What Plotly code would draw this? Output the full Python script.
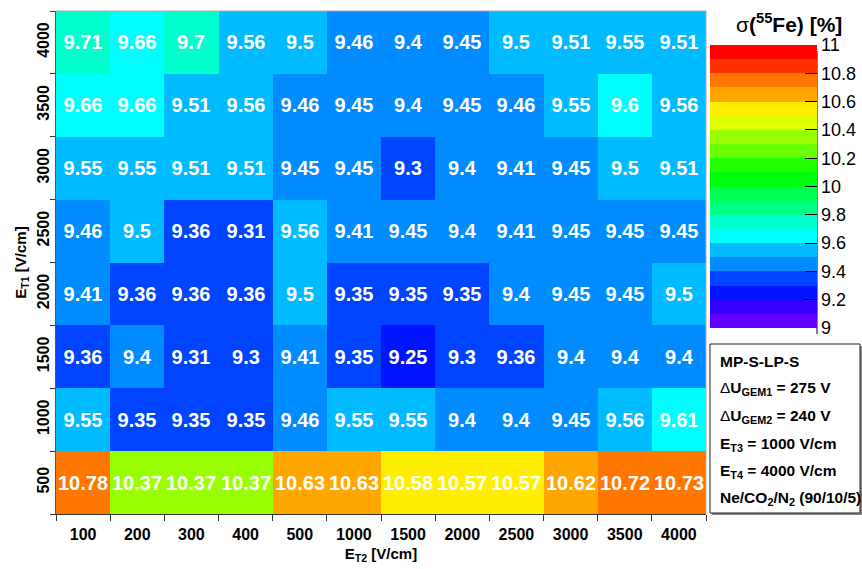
import math
import plotly.graph_objects as go

# Transfer fields
et2_labels = ["100", "200", "300", "400", "500", "1000", "1500", "2000", "2500", "3000", "3500", "4000"]
et1_labels = ["500", "1000", "1500", "2000", "2500", "3000", "3500", "4000"]

# Energy resolution sigma(55Fe) [%], one row per E_T1 value (bottom to top)
res_500 = [10.78, 10.37, 10.37, 10.37, 10.63, 10.63, 10.58, 10.57, 10.57, 10.62, 10.72, 10.73]
res_1000 = [9.55, 9.35, 9.35, 9.35, 9.46, 9.55, 9.55, 9.4, 9.4, 9.45, 9.56, 9.61]
res_1500 = [9.36, 9.4, 9.31, 9.3, 9.41, 9.35, 9.25, 9.3, 9.36, 9.4, 9.4, 9.4]
res_2000 = [9.41, 9.36, 9.36, 9.36, 9.5, 9.35, 9.35, 9.35, 9.4, 9.45, 9.45, 9.5]
res_2500 = [9.46, 9.5, 9.36, 9.31, 9.56, 9.41, 9.45, 9.4, 9.41, 9.45, 9.45, 9.45]
res_3000 = [9.55, 9.55, 9.51, 9.51, 9.45, 9.45, 9.3, 9.4, 9.41, 9.45, 9.5, 9.51]
res_3500 = [9.66, 9.66, 9.51, 9.56, 9.46, 9.45, 9.4, 9.45, 9.46, 9.55, 9.6, 9.56]
res_4000 = [9.71, 9.66, 9.7, 9.56, 9.5, 9.46, 9.4, 9.45, 9.5, 9.51, 9.55, 9.51]

rows = [res_500, res_1000, res_1500, res_2000, res_2500, res_3000, res_3500, res_4000]

# Contour levels
z_lo, z_hi, n_levels = 9.0, 11.0, 20
step = (z_hi - z_lo) / n_levels

# 20-level rainbow palette (violet -> red)
palette = ["#6300ff", "#3300ff", "#0014ff", "#0044ff", "#008bff",
           "#00bbff", "#00fffc", "#00ffcc", "#00ff85", "#00ff55",
           "#00ff0e", "#22ff00", "#69ff00", "#99ff00", "#e0ff00",
           "#ffee00", "#ffa700", "#ff7700", "#ff3000", "#ff0000"]

colorscale = []
for k, c in enumerate(palette):
    colorscale.append([k / n_levels, c])
    colorscale.append([(k + 1) / n_levels, c])


def level_center(v):
    k = math.floor(round((v - z_lo) / step, 6))
    k = min(max(k, 0), n_levels - 1)
    return z_lo + (k + 0.5) * step


z_col = [[level_center(v) for v in r] for r in rows]
txt = [[f"{v:g}" for v in r] for r in rows]

W_FIG, H_FIG = 862, 569
L, R, T, B = 56, 706, 11, 514
PW, PH = R - L, B - T


def px(x):
    return (x - L) / PW


def py(y):
    return (B - y) / PH


FONT = "Liberation Sans, Arial, sans-serif"

cb_ticks = [9.0, 9.2, 9.4, 9.6, 9.8, 10.0, 10.2, 10.4, 10.6, 10.8, 11.0]

fig = go.Figure(go.Heatmap(
    x=et2_labels, y=et1_labels, z=z_col,
    text=txt, texttemplate="%{text}",
    textfont=dict(family=FONT, size=20, color="white", weight="bold"),
    colorscale=colorscale, zmin=z_lo, zmax=z_hi,
    hoverinfo="skip",
    colorbar=dict(
        xref="container", yref="container",
        x=710 / W_FIG, xanchor="left", xpad=0,
        y=(H_FIG - 51) / H_FIG, yanchor="top", ypad=0,
        thickness=107, thicknessmode="pixels",
        len=283, lenmode="pixels",
        outlinewidth=0,
        ticks="inside", ticklen=12, tickwidth=1, tickcolor="black",
        tickvals=cb_ticks, ticktext=[f"{t:g}" for t in cb_ticks],
        tickfont=dict(family=FONT, size=18, color="black"),
    ),
))

fig.update_layout(
    width=W_FIG, height=H_FIG,
    margin=dict(l=L, r=W_FIG - R, t=T, b=H_FIG - B, autoexpand=False),
    paper_bgcolor="white", plot_bgcolor="white",
    font=dict(family=FONT, color="black"),
    xaxis=dict(
        type="category", tickson="boundaries", automargin=False,
        ticks="outside", ticklen=6, tickcolor="#333", tickwidth=1,
        showline=True, linecolor="#333", linewidth=1,
        ticklabelstandoff=6,
        tickfont=dict(family=FONT, size=16, weight="bold"),
        title=dict(text="E<sub>T2</sub> [V/cm]", standoff=6,
                   font=dict(family=FONT, size=15, weight="bold")),
        showgrid=False, zeroline=False,
    ),
    yaxis=dict(
        type="category", tickson="boundaries", automargin=False,
        ticks="outside", ticklen=5, tickcolor="#333", tickwidth=1,
        showline=True, linecolor="#555", linewidth=1,
        tickangle=-90,
        tickfont=dict(family=FONT, size=16, weight="bold"),
        title=dict(text="E<sub>T1</sub> [V/cm]", standoff=4,
                   font=dict(family=FONT, size=15, weight="bold")),
        showgrid=False, zeroline=False,
    ),
)

shapes = [
    # frame top and right
    dict(type="line", xref="paper", yref="paper", x0=0, x1=1, y0=1, y1=1,
         line=dict(color="#aaaaaa", width=1)),
    dict(type="line", xref="paper", yref="paper", x0=1, x1=1, y0=0, y1=1,
         line=dict(color="#aaaaaa", width=1)),
    # colour bar axis line
    dict(type="line", xref="paper", yref="paper", x0=px(817), x1=px(817),
         y0=py(334), y1=py(51), line=dict(color="black", width=1)),
    # info box shadow and frame
    dict(type="rect", xref="paper", yref="paper", x0=px(712), x1=px(864),
         y0=py(515), y1=py(346), fillcolor="#888888", line=dict(width=0)),
    dict(type="rect", xref="paper", yref="paper", x0=px(710), x1=px(860),
         y0=py(513), y1=py(344), fillcolor="white",
         line=dict(color="#222222", width=1)),
]
fig.update_layout(shapes=shapes)

annotations = [
    dict(text="σ<b>(<sup>55</sup>Fe) [%]</b>", x=px(789), y=py(23),
         xref="paper", yref="paper", xanchor="center", yanchor="middle",
         showarrow=False, font=dict(family=FONT, size=21, color="black")),
]

info_lines = [
    ("<b>MP-S-LP-S</b>", 361),
    ("Δ<b>U<sub>GEM1</sub> = 275 V</b>", 388),
    ("Δ<b>U<sub>GEM2</sub> = 240 V</b>", 416),
    ("<b>E<sub>T3</sub> = 1000 V/cm</b>", 444),
    ("<b>E<sub>T4</sub> = 4000 V/cm</b>", 471),
    ("<b>Ne/CO<sub>2</sub>/N<sub>2</sub> (90/10/5)</b>", 498),
]
for s, yc in info_lines:
    annotations.append(dict(
        text=s, x=px(718), y=py(yc), xref="paper", yref="paper",
        xanchor="left", yanchor="middle", showarrow=False,
        font=dict(family=FONT, size=15.5, color="black")))

fig.update_layout(annotations=annotations)

fig.write_html("out.html")
